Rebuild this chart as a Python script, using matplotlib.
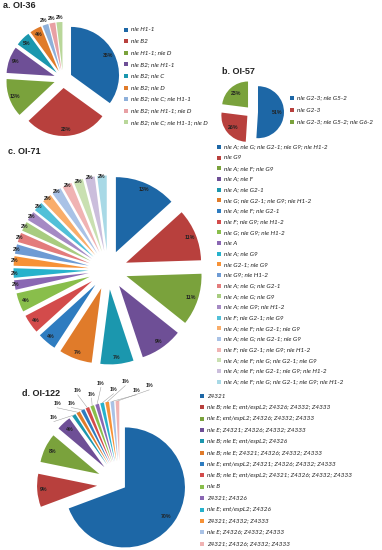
import matplotlib
matplotlib.use('Agg')
import matplotlib.pyplot as plt
from matplotlib.patches import Rectangle
import numpy as np

# ---------------- data ----------------
a_labels = ['nle H1-1', 'nle B2', 'nle H1-1; nle D', 'nle B2; nle H1-1', 'nle B2; nle C',
            'nle B2; nle D', 'nle B2; nle C; nle H1-1', 'nle B2; nle H1-1; nle D',
            'nle B2; nle C; nle H1-1; nle D']
a_values = [35, 28, 13, 9, 5, 4, 2, 2, 2]

b_labels = ['nle G2-3; nle G5-2', 'nle G2-3', 'nle G2-3; nle G5-2; nle G6-2']
b_values = [51, 26, 23]

c_labels = ['nle A; nle G; nle G2-1; nle G9; nle H1-2', 'nle G9', 'nle A; nle F; nle G9',
            'nle A; nle F', 'nle A; nle G2-1', 'nle G; nle G2-1; nle G9; nle H1-2',
            'nle A; nle F; nle G2-1', 'nle F; nle G9; nle H1-2', 'nle G; nle G9; nle H1-2',
            'nle A', 'nle A; nle G9', 'nle G2-1; nle G9', 'nle G9; nle H1-2',
            'nle A; nle G; nle G2-1', 'nle A; nle G; nle G9', 'nle A; nle G9; nle H1-2',
            'nle F; nle G2-1; nle G9', 'nle A; nle F; nle G2-1; nle G9',
            'nle A; nle G; nle G2-1; nle G9', 'nle F; nle G2-1; nle G9; nle H1-2',
            'nle A; nle F; nle G; nle G2-1; nle G9', 'nle A; nle F; nle G2-1; nle G9; nle H1-2',
            'nle A; nle F; nle G; nle G2-1; nle G9; nle H1-2']
c_values = [13, 11, 11, 9, 7, 7, 4, 4, 4, 2, 2, 2, 2, 2, 2, 2, 2, 2, 2, 2, 2, 2, 2]

d_labels = ['Z4321', 'nle B; nle E; ent/espL2; Z4326; Z4332; Z4333',
            'nle E; ent/espL2; Z4326; Z4332; Z4333', 'nle E; Z4321; Z4326; Z4332; Z4333',
            'nle B; nle E; ent/espL2; Z4326', 'nle B; nle E; Z4321; Z4326; Z4332; Z4333',
            'nle E; ent/espL2; Z4321; Z4326; Z4332; Z4333',
            'nle B; nle E; ent/espL2; Z4321; Z4326; Z4332; Z4333', 'nle B', 'Z4321; Z4326',
            'nle E; ent/espL2; Z4326', 'Z4321; Z4332; Z4333', 'nle E; Z4326; Z4332; Z4333',
            'Z4321; Z4326; Z4332; Z4333']
d_values = [70, 9, 8, 4, 1, 1, 1, 1, 1, 1, 1, 1, 1, 1]

titles = ['a. OI-36', 'b. OI-57', 'c. OI-71', 'd. OI-122']

# ---------------- styling ----------------
palette = ['#1D67A6', '#B8403D', '#7AA23C', '#6E4F96', '#1B97AE', '#E07B2A',
           '#2E7CC0', '#D34B4B', '#89BE4B', '#8A67B3', '#27B2CC', '#F79237',
           '#6E9BD4', '#E37C7C', '#A8CC80', '#A58AC4', '#52C0D8', '#F9AD6A',
           '#A9C2E6', '#F0B3B3', '#C9E0B1', '#CBBEDC', '#A8D9E6']
a_colors = palette[:6] + ['#8EB0DA', '#E8A0A4', '#B9D79A']
b_colors = palette[:3]
c_colors = palette[:23]
d_colors = palette[:12] + ['#A9C2E6', '#F0B3B3']

W, H = 382, 550
fig = plt.figure(figsize=(W / 100, H / 100), dpi=100)
ax = fig.add_axes([0, 0, 1, 1])

LEG_FONT = 'Lato'
PCT_FONT = 'Liberation Sans'


def Y(y):
    return H - y


def draw_pie(values, colors, cx, cy, r, explode, pctd):
    wedges, _ = ax.pie(values, colors=colors, center=(cx, Y(cy)), radius=r,
                       explode=explode, startangle=90, counterclock=False,
                       wedgeprops=dict(linewidth=0), frame=True)
    for w, v, pd in zip(wedges, values, pctd):
        if pd is None:
            continue
        t = np.deg2rad((w.theta1 + w.theta2) / 2)
        x = w.center[0] + pd * w.r * np.cos(t)
        y = w.center[1] + pd * w.r * np.sin(t)
        ax.text(x, y, f'{v}%', fontsize=3.8, fontweight='bold', family=PCT_FONT,
                ha='center', va='center', color='#222222')
    return wedges


def draw_legend(labels, colors, x, y0, dy, fs=4.6):
    for i, (lab, col) in enumerate(zip(labels, colors)):
        y = Y(y0 + i * dy)
        ax.add_patch(Rectangle((x - 2, y - 2), 4, 4, facecolor=col, lw=0))
        ax.text(x + 5, y, lab, fontsize=fs, style='italic', family=LEG_FONT,
                ha='left', va='center', color='#222222')


# panel a
draw_pie(a_values, a_colors, 63, 79, 48, [9] * len(a_values),
         [0.87 if v > 2 else 1.1 for v in a_values])
draw_legend(a_labels, a_colors, 126, 29.5, 11.6)

# panel b
draw_pie(b_values, b_colors, 252, 112, 26, [6] * len(b_values), [0.72] * 3)
draw_legend(b_labels, b_colors, 292, 98, 12)

# panel c
draw_pie(c_values, c_colors, 108, 270, 75, [19.5] * len(c_values),
         [0.91 if v > 2 else 0.99 for v in c_values])
draw_legend(c_labels, c_colors, 219, 147, 10.67)

# panel d
cx_d, cy_d = 120, 484
wd = draw_pie(d_values, d_colors, cx_d, cy_d, 60, [6] + [23] * (len(d_values) - 1),
              [0.84, 0.9, 0.86, 0.86] + [None] * (len(d_values) - 4))
small = [w for w, v in zip(wd, d_values) if v == 1]
fan_angles = np.linspace(-46, 17, len(small))
for k, (w, fa) in enumerate(zip(small, fan_angles)):
    t = np.deg2rad((w.theta1 + w.theta2) / 2)
    tipx = w.center[0] + w.r * np.cos(t)
    tipy = w.center[1] + w.r * np.sin(t)
    R = 92 if k % 2 == 0 else 100
    fr = np.deg2rad(fa)
    lx = cx_d + R * np.sin(fr)
    ly = Y(cy_d) + R * np.cos(fr)
    ax.plot([tipx, lx], [tipy, ly - 1.5], color='#9A9A9A', lw=0.35)
    ax.text(lx, ly, '1%', fontsize=3.8, fontweight='bold', family=PCT_FONT,
            ha='center', va='bottom', color='#222222')
draw_legend(d_labels, d_colors, 202, 396, 11.35)

# titles
for t, (tx, ty) in zip(titles, [(3, 6), (222, 72), (8, 152), (22, 393)]):
    ax.text(tx, Y(ty), t, fontsize=6.5, fontweight='bold', family='Liberation Sans',
            ha='left', va='center', color='#222222')

ax.set_xlim(0, W)
ax.set_ylim(0, H)
ax.set_aspect('equal')
ax.axis('off')
fig.savefig('out.png', dpi=100, facecolor='white')
